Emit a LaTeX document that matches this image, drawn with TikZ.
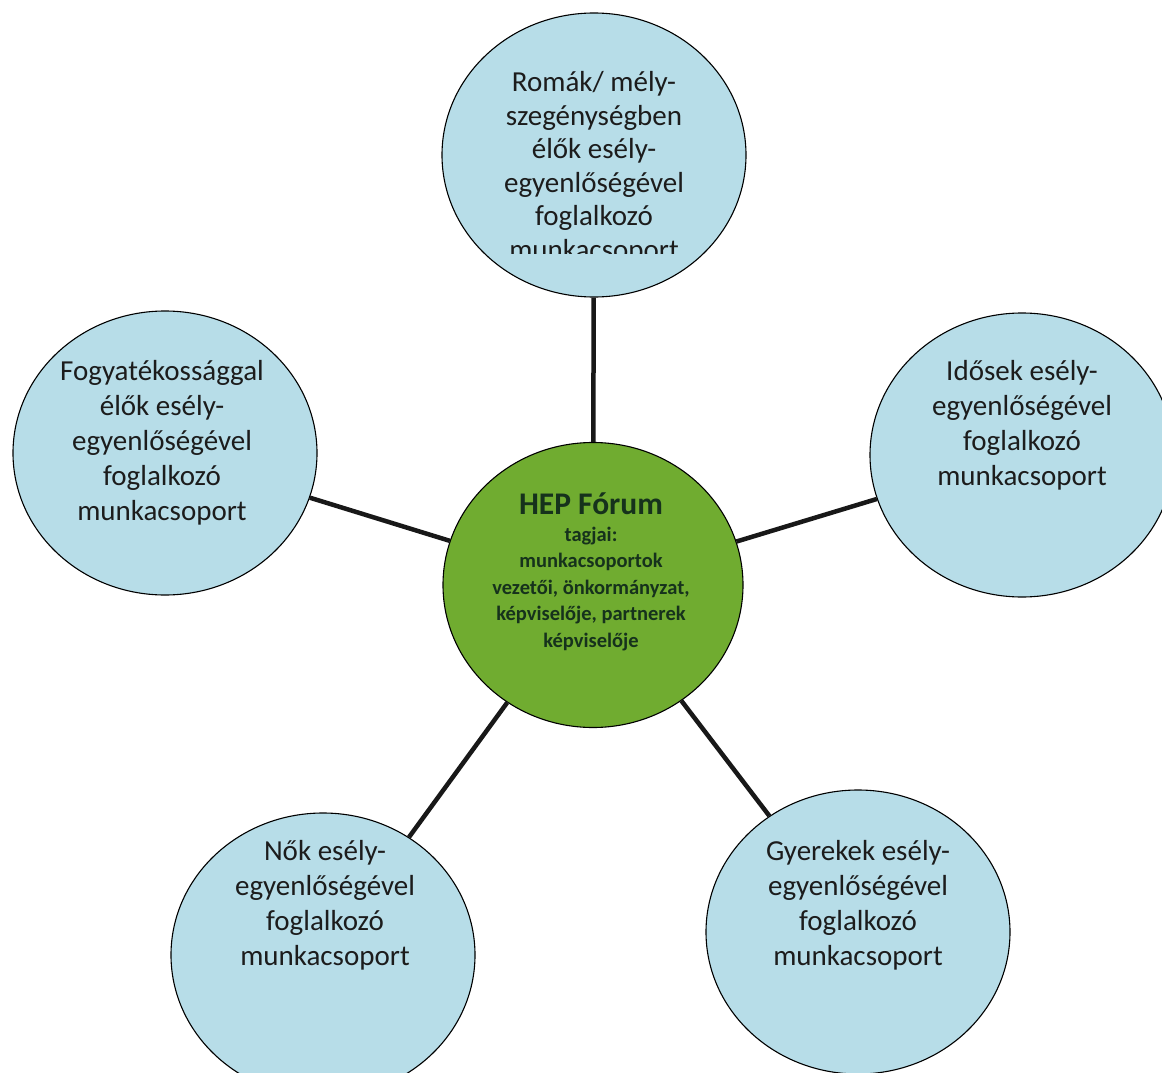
\documentclass[tikz,border=0pt]{standalone}
\usepackage{fontspec}
\setmainfont{Carlito}
\usetikzlibrary{shapes.geometric}
\definecolor{groupFill}{RGB}{183,221,232}
\definecolor{forumFill}{RGB}{112,172,48}
\definecolor{forumInk}{RGB}{22,50,28}
\definecolor{figInk}{RGB}{28,28,28}
\definecolor{spokeInk}{RGB}{24,24,24}

\begin{document}
\begin{tikzpicture}[
  x=1pt,
  y=-1pt,
  group/.style={ellipse, draw=black, line width=1.1pt, fill=groupFill, minimum width=304pt, minimum height=284pt, inner sep=0pt},
  forum/.style={group, fill=forumFill, minimum width=300pt, minimum height=285pt},
  grouptext/.style={align=center, text=figInk, font=\fontsize{29}{35}\selectfont, inner sep=0pt},
  forumtext/.style={align=center, text=forumInk, font=\fontsize{20.5}{26.5}\selectfont\bfseries, inner sep=0pt},
  line/.style={draw=spokeInk, line width=4.5pt}
]
\path[use as bounding box] (0,0) rectangle (1162,1073);
\clip (0,0) rectangle (1162,1073);
\fill[white] (0,0) rectangle (1162,1073);

\node[group] (romak) at (594,155) {};
\node[group] (fogyatek) at (165,453) {};
\node[group] (idosek) at (1022,455) {};
\node[group] (nok) at (323,955) {};
\node[group] (gyerekek) at (858,932) {};
\node[forum] (forum) at (593,585) {};

\foreach \g in {romak,fogyatek,idosek,nok,gyerekek}
  \draw[line] (forum) -- (\g);

\begin{scope}
\clip (430,0) rectangle (760,253);
\node[grouptext, font=\fontsize{29}{33.5}\selectfont] (romak-t) at (594,168) {Romák/ mély-\\szegénységben\\élők esély-\\egyenlőségével\\foglalkozó\\munkacsoport};
\end{scope}
\node[grouptext] (fogyatek-t) at (162,443) {Fogyatékossággal\\élők esély-\\egyenlőségével\\foglalkozó\\munkacsoport};
\node[grouptext] (idosek-t) at (1022,425) {Idősek esély-\\egyenlőségével\\foglalkozó\\munkacsoport};
\node[grouptext] (nok-t) at (325,905) {Nők esély-\\egyenlőségével\\foglalkozó\\munkacsoport};
\node[grouptext] (gyerekek-t) at (858,905) {Gyerekek esély-\\egyenlőségével\\foglalkozó\\munkacsoport};

\node[forumtext] (forum-t) at (591,572) {{\fontsize{31.5}{36}\selectfont HEP Fórum}\\tagjai:\\munkacsoportok\\vezetői, önkormányzat,\\képviselője, partnerek\\képviselője};
\end{tikzpicture}
\end{document}
